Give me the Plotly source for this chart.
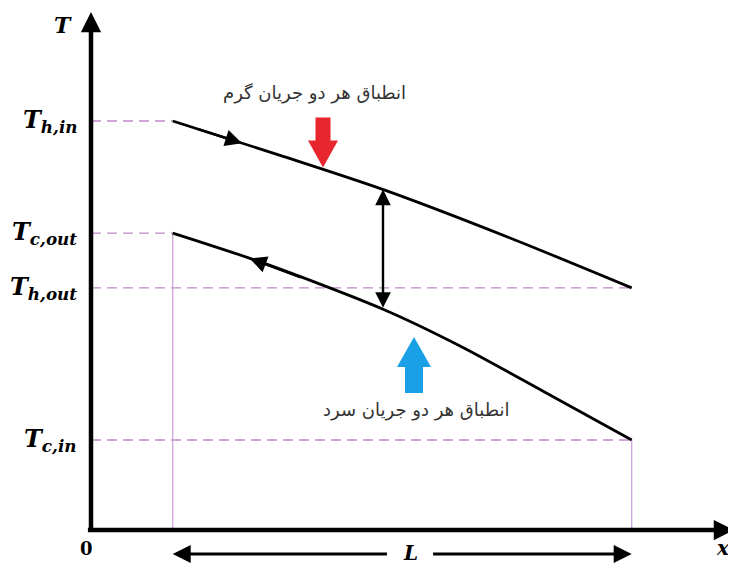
import numpy as np
import plotly.graph_objects as go

# position along the exchanger (L = 10 units) and temperature (arbitrary units)
x_in, x_out = 1.78, 11.78
T_h_in, T_c_out, T_h_out, T_c_in = 100.0, 72.6, 59.2, 22.0

hot_x = [1.78, 4.12, 6.40, 9.13, 11.78]
hot_T = [100.0, 91.6, 83.1, 71.4, 59.2]
cold_x = [1.78, 3.75, 6.40, 8.04, 9.89, 11.78]
cold_T = [72.6, 65.3, 53.8, 45.0, 33.7, 22.0]

level_subs = ["h,in", "c,out", "h,out", "c,in"]
level_T = [T_h_in, T_c_out, T_h_out, T_c_in]
level_end = [x_in, x_in, x_out, x_out]

hot_note = "انطباق هر دو جریان گرم"
cold_note = "انطباق هر دو جریان سرد"

# px per unit, so sizes of decorations can be given in screen pixels
PX_X, PX_T = 45.9, 4.09
W, H = 736, 563
X0, T0 = 91, 530  # screen position of the origin
PAD = 8           # page margin around the plot

SERIF = "DejaVu Serif"
DASH = "#c08ac8"
GUIDE = "#cfa3d8"

fig = go.Figure()

# dashed guide lines to the T axis
for T, xe in zip(level_T, level_end):
    fig.add_trace(go.Scatter(x=[0, xe], y=[T, T], mode="lines",
                             line=dict(color=DASH, width=1.3, dash="10px,6px"),
                             hoverinfo="skip"))
# vertical guides at both ends of the exchanger
fig.add_trace(go.Scatter(x=[x_in, x_in], y=[0, T_c_out], mode="lines",
                         line=dict(color=GUIDE, width=1.3), hoverinfo="skip"))
fig.add_trace(go.Scatter(x=[x_out, x_out], y=[0, T_c_in], mode="lines",
                         line=dict(color=GUIDE, width=1.3), hoverinfo="skip"))

# hot and cold streams
fig.add_trace(go.Scatter(x=hot_x, y=hot_T, mode="lines", name="hot",
                         line=dict(color="black", width=2.8, shape="spline", smoothing=0.8)))
fig.add_trace(go.Scatter(x=cold_x, y=cold_T, mode="lines", name="cold",
                         line=dict(color="black", width=2.8, shape="spline", smoothing=0.8)))


def arrow(x, y, ax, ay, width, size, **kw):
    fig.add_annotation(x=x, y=y, ax=ax, ay=ay, xref="x", yref="y", axref="x", ayref="y",
                       showarrow=True, arrowhead=2, arrowwidth=width, arrowsize=size,
                       arrowcolor="black", text="", **kw)


# axes
arrow(0, (T0 - 12) / PX_T, 0, -0.6, 4.5, 0.9)
arrow((734 - X0) / PX_X, 0, -0.1, 0, 4.5, 0.9)

# flow direction marks on the streams
tip = 3.29
arrow(tip, np.interp(tip, hot_x, hot_T), 2.3, np.interp(2.3, hot_x, hot_T), 2.4, 1.4)
tip = 3.46
arrow(tip, np.interp(tip, cold_x, cold_T), 4.6, np.interp(4.6, cold_x, cold_T), 2.4, 1.4)

# temperature difference between the streams
xd = (383 - X0) / PX_X
arrow(xd, np.interp(xd, hot_x, hot_T), xd, np.interp(xd, cold_x, cold_T), 2.4, 1.3,
      arrowside="end+start", startarrowhead=2, startarrowsize=1.3)

# length of the exchanger
yL = (T0 - 554) / PX_T
arrow(x_in, yL, 6.48, yL, 3, 1.2)
arrow(x_out, yL, 7.42, yL, 3, 1.2)


def block_arrow(tx, tT, d, length, head_len, shaft_w, head_w, color):
    # d = +1 points up, -1 points down; sizes in px
    sx, sT = 1 / PX_X, 1 / PX_T
    base = tT - d * length * sT
    neck = tT - d * head_len * sT
    pts = [(tx - shaft_w / 2 * sx, base), (tx + shaft_w / 2 * sx, base),
           (tx + shaft_w / 2 * sx, neck), (tx + head_w / 2 * sx, neck), (tx, tT),
           (tx - head_w / 2 * sx, neck), (tx - shaft_w / 2 * sx, neck)]
    path = "M " + " L ".join(f"{a:.4f},{b:.4f}" for a, b in pts) + " Z"
    fig.add_shape(type="path", path=path, xref="x", yref="y",
                  fillcolor=color, line=dict(width=0))


xr = (323 - X0) / PX_X
block_arrow(xr, np.interp(xr, hot_x, hot_T) + 2 / PX_T, -1, 50, 27, 15, 30, "#e8262d")
xb = (414 - X0) / PX_X
block_arrow(xb, np.interp(xb, cold_x, cold_T) - 13 / PX_T, 1, 56, 30, 18, 34, "#1aa0e6")

# notes
fig.add_annotation(x=(314 - X0) / PX_X, y=(T0 - 93) / PX_T, text=hot_note, showarrow=False,
                   font=dict(family="DejaVu Sans", size=18, color="#333333"))
fig.add_annotation(x=(416 - X0) / PX_X, y=(T0 - 410) / PX_T, text=cold_note, showarrow=False,
                   font=dict(family="DejaVu Sans", size=18, color="#333333"))

# temperature labels
for sub, T in zip(level_subs, level_T):
    fig.add_annotation(x=(79 - X0) / PX_X, y=T, xanchor="right", yanchor="middle",
                       text=f"<b><i>T<sub>{sub}</sub></i></b>", showarrow=False,
                       font=dict(family=SERIF, size=24, color="black"))

fig.add_annotation(x=(63 - X0) / PX_X, y=(T0 - 25) / PX_T, text="<b><i>T</i></b>",
                   showarrow=False, font=dict(family=SERIF, size=22, color="black"))
fig.add_annotation(x=(86 - X0) / PX_X, y=(T0 - 548) / PX_T, text="<b>0</b>",
                   showarrow=False, font=dict(family=SERIF, size=18, color="black"))
fig.add_annotation(x=(723 - X0) / PX_X, y=(T0 - 548) / PX_T, text="<b><i>x</i></b>",
                   showarrow=False, font=dict(family=SERIF, size=20, color="black"))
fig.add_annotation(x=(410 - X0) / PX_X, y=(T0 - 553) / PX_T, text="<b><i>L</i></b>",
                   showarrow=False, font=dict(family=SERIF, size=20, color="black"))

# the page draws the plot PAD px in from the corner, so the ranges start there
fig.update_xaxes(range=[(PAD - X0) / PX_X, (W - X0) / PX_X], visible=False)
fig.update_yaxes(range=[(T0 - H) / PX_T, (T0 - PAD) / PX_T], visible=False)
fig.update_layout(width=W - PAD, height=H - PAD, margin=dict(l=0, r=0, t=0, b=0),
                  plot_bgcolor="white", paper_bgcolor="white", showlegend=False)

fig.write_html("out.html")
